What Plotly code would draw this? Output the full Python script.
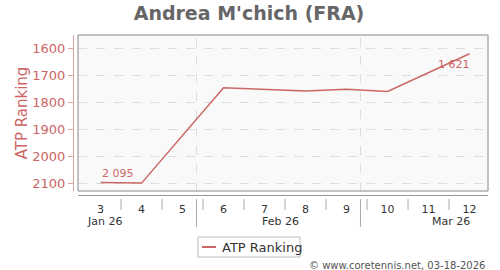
import plotly.graph_objects as go

weeks = [3, 4, 6, 8, 9, 10, 12]
ranking = [2095, 2097, 1746, 1758, 1752, 1760, 1621]
week_ticks = [3, 4, 5, 6, 7, 8, 9, 10, 11, 12]
month_labels = ["Jan 26", "Feb 26", "Mar 26"]
month_label_pos = [3.1, 7.4, 11.55]
month_bounds = [5.34, 9.34]
y_ticks = [1600, 1700, 1800, 1900, 2000, 2100]
series_name = "ATP Ranking"

RED = "rgb(204,102,102)"
FONT = "DejaVu Sans"

def fmt(v):
    return f"{v:,}".replace(",", " ")

fig = go.Figure()
fig.add_trace(go.Scatter(
    x=weeks, y=ranking, mode="lines", name=series_name,
    line=dict(color=RED, width=1.5), hoverinfo="skip", showlegend=False,
))

W, H = 500, 270
ml, mr, mt, mb = 73, 12, 35, 75
pw = W - ml - mr  # 415
ph = H - mt - mb  # 160

def px_x(p):
    return (p - ml) / pw

def px_y(p):
    return (H - mb - p) / ph

fig.update_layout(
    width=W, height=H,
    margin=dict(l=ml, r=mr, t=mt, b=mb, pad=0, autoexpand=False),
    paper_bgcolor="white", plot_bgcolor="#f9f9f9",
    separators=". ",
    font=dict(family=FONT, color="#333"),
    title=dict(text="<b>Andrea M'chich (FRA)</b>", x=0.498, xanchor="center",
               y=1 - 13 / H, yanchor="middle", font=dict(size=19, color="#666", family=FONT)),
    showlegend=False,
)

fig.update_xaxes(
    domain=[5 / pw, 1], range=[2.45, 12.45], anchor="free", position=0,
    tickmode="array", tickvals=week_ticks, ticktext=[str(w) for w in week_ticks],
    ticks="", showline=True, linecolor="#999", linewidth=1,
    showgrid=False, zeroline=False, tickfont=dict(size=11, color="#333"),
    ticklabelstandoff=4, automargin=False,
)
fig.update_yaxes(
    domain=[4 / ph, 1], range=[2126, 1552], anchor="free", position=0,
    tickmode="array", tickvals=y_ticks,
    showline=True, linecolor="#dba3a3", linewidth=1,
    ticks="outside", ticklen=5, tickcolor="#dba3a3",
    showgrid=True, gridcolor="#dddddd", griddash="dash", gridwidth=1,
    zeroline=False, tickfont=dict(size=13, color=RED), automargin=False,
    title=dict(text=series_name, font=dict(size=15, color=RED), standoff=0),
)

shapes = []
x0p = px_x(78)
y0p = px_y(191)
shapes.append(dict(type="rect", xref="paper", yref="paper", x0=x0p, x1=1, y0=y0p, y1=1,
                   line=dict(color="#888", width=1), layer="above"))
for i in range(len(week_ticks) - 1):
    xs = (week_ticks[i] + week_ticks[i + 1]) / 2
    shapes.append(dict(type="line", xref="x", yref="paper", x0=xs, x1=xs,
                       y0=px_y(199), y1=px_y(210),
                       line=dict(color="#aaa", width=1)))
for mbd in month_bounds:
    shapes.append(dict(type="line", xref="x", yref="paper", x0=mbd, x1=mbd,
                       y0=px_y(199), y1=px_y(227),
                       line=dict(color="#aaa", width=1)))
    shapes.append(dict(type="line", xref="x", yref="paper", x0=mbd, x1=mbd,
                       y0=y0p, y1=1, line=dict(color="#dddddd", width=1, dash="dash"),
                       layer="below"))
# legend box
shapes.append(dict(type="rect", xref="paper", yref="paper", x0=px_x(198), x1=px_x(300),
                   y0=px_y(257), y1=px_y(237), line=dict(color="#bbb", width=1),
                   fillcolor="white"))
shapes.append(dict(type="line", xref="paper", yref="paper", x0=px_x(202), x1=px_x(216),
                   y0=px_y(247), y1=px_y(247), line=dict(color=RED, width=2)))
fig.update_layout(shapes=shapes)

ann = []
for lab, pos in zip(month_labels, month_label_pos):
    ann.append(dict(text=lab, x=pos, xref="x", y=px_y(221), yref="paper",
                    showarrow=False, xanchor="center", yanchor="middle",
                    font=dict(size=11, color="#333", family=FONT)))
ann.append(dict(text=fmt(ranking[0]), x=weeks[0], y=ranking[0], xref="x", yref="y",
                showarrow=False, xanchor="left", yanchor="bottom", yshift=1, xshift=-1,
                font=dict(size=11, color=RED, family=FONT)))
ann.append(dict(text=fmt(ranking[-1]), x=weeks[-1], y=ranking[-1], xref="x", yref="y",
                showarrow=False, xanchor="right", yanchor="top", yshift=-2, xshift=2,
                font=dict(size=11, color=RED, family=FONT)))
ann.append(dict(text=series_name, x=px_x(220), xref="paper", y=px_y(247), yref="paper",
                showarrow=False, xanchor="left", yanchor="middle",
                font=dict(size=13, color="#333", family=FONT)))
ann.append(dict(text="© www.coretennis.net, 03-18-2026", x=px_x(487), xref="paper",
                y=px_y(265), yref="paper", showarrow=False, xanchor="right",
                yanchor="middle", font=dict(size=10, color="#555", family=FONT)))
fig.update_layout(annotations=ann)

fig.write_html("out.html")
